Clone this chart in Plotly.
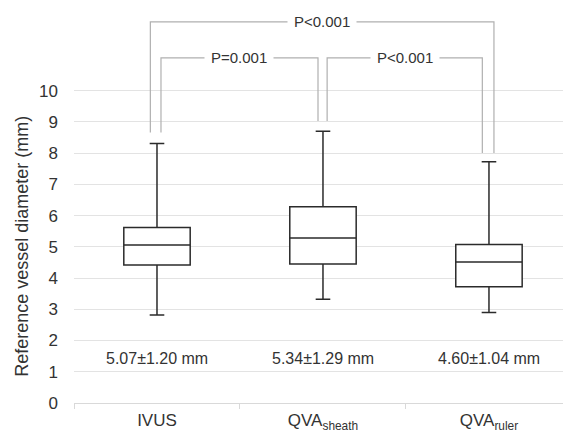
import plotly.graph_objects as go

categories = ["IVUS", "QVA<sub>sheath</sub>", "QVA<sub>ruler</sub>"]
lower_whisker = [2.82, 3.32, 2.90]
q1 = [4.42, 4.45, 3.72]
median = [5.06, 5.28, 4.51]
q3 = [5.62, 6.28, 5.07]
upper_whisker = [8.31, 8.70, 7.72]
mean_sd_labels = ["5.07±1.20 mm", "5.34±1.29 mm", "4.60±1.04 mm"]
y_ticks = list(range(0, 11))
y_title = "Reference vessel diameter (mm)"

# comparisons: (left x, right x, left leg bottom, right leg bottom, top, label)
comparisons = [
    (-0.04, 2.03, 8.66, 8.00, 12.2, "P<0.001"),
    (0.024, 0.97, 8.66, 9.03, 11.05, "P=0.001"),
    (1.025, 1.96, 9.03, 8.00, 11.05, "P<0.001"),
]

FONT = "Liberation Sans, Arial, Helvetica, sans-serif"
TXT = "#333333"

fig = go.Figure()
fig.add_trace(go.Box(
    x=categories,
    q1=q1, median=median, q3=q3,
    lowerfence=lower_whisker, upperfence=upper_whisker,
    width=0.4,
    whiskerwidth=0.22,
    boxpoints=False,
    fillcolor="white",
    line=dict(color="#2b2b2b", width=1.5),
    hoverinfo="skip",
    showlegend=False,
))

shapes = []
annotations = []
for xl, xr, yl, yr, top, label in comparisons:
    shapes.append(dict(
        type="path",
        path=f"M {xl} {yl} L {xl} {top} L {xr} {top} L {xr} {yr}",
        xref="x", yref="y",
        line=dict(color="#b0b0b0", width=1.2),
    ))
    annotations.append(dict(
        x=(xl + xr) / 2, y=top, xref="x", yref="y",
        text=label, showarrow=False,
        font=dict(family=FONT, size=15, color=TXT),
        bgcolor="white", borderpad=6,
        xanchor="center", yanchor="middle",
    ))

for i, lab in enumerate(mean_sd_labels):
    annotations.append(dict(
        x=i, y=1.42, xref="x", yref="y",
        text=lab, showarrow=False,
        font=dict(family=FONT, size=16, color=TXT),
        xanchor="center", yanchor="middle",
    ))

annotations.append(dict(
    x=-0.107, y=5.02, xref="paper", yref="y",
    text=y_title, textangle=-90, showarrow=False,
    font=dict(family=FONT, size=18, color=TXT),
    xanchor="center", yanchor="middle",
))

fig.update_layout(
    width=563, height=432,
    margin=dict(l=74, r=0, t=0, b=29),
    plot_bgcolor="white", paper_bgcolor="white",
    font=dict(family=FONT, size=16, color=TXT),
    shapes=shapes,
    annotations=annotations,
    xaxis=dict(
        type="category",
        range=[-0.5, 2.446],
        showgrid=False,
        showline=True, linecolor="#d9d9d9", linewidth=1,
        ticks="outside", tickson="boundaries", ticklen=5, tickcolor="#d9d9d9",
        tickfont=dict(family=FONT, size=17, color=TXT),
        ticklabelstandoff=2,
        automargin=False,
        zeroline=False,
    ),
    yaxis=dict(
        range=[0, 12.9],
        tickvals=y_ticks,
        showgrid=True, gridcolor="#e3e3e3", gridwidth=1,
        zeroline=False, showline=False,
        tickfont=dict(family=FONT, size=17, color=TXT),
        ticklabelstandoff=15,
        automargin=False,
    ),
)

fig.write_html(
    "out.html",
    config={"displayModeBar": False},
    post_script="document.body.style.margin='0';document.body.style.padding='0';",
)
